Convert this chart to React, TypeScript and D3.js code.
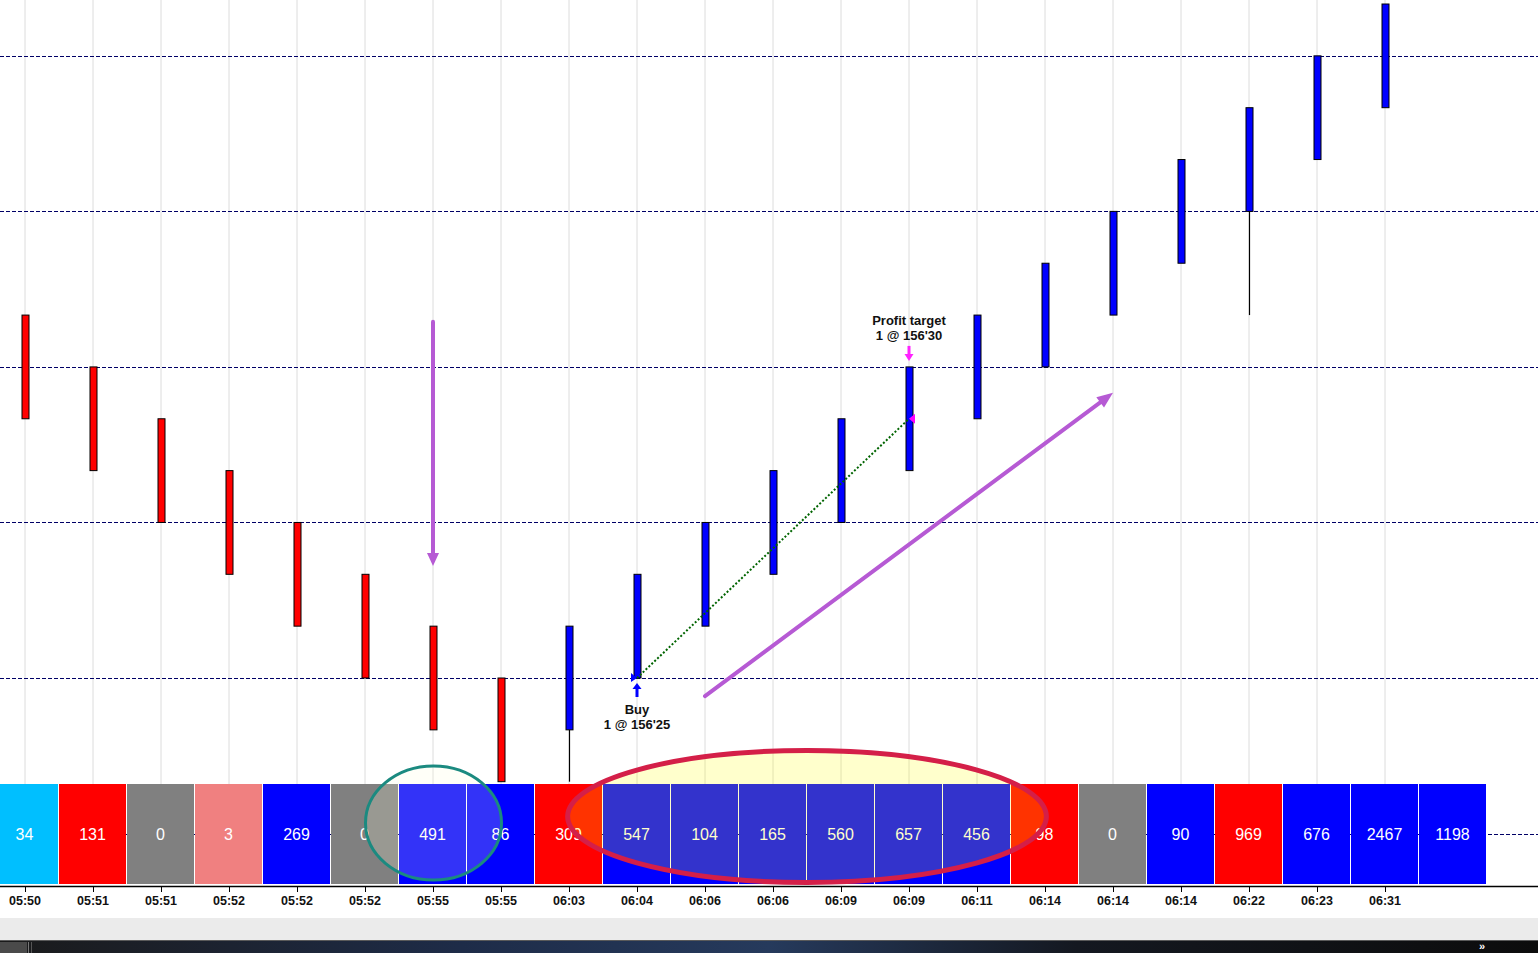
import React from "react";
import * as d3 from "d3";

// renko bricks, in brick units (0 = buy level 156'25)
const brickOpen = [7, 6, 5, 4, 3, 2, 1, 0, -1, 0, 1, 2, 3, 4, 5, 6, 7, 8, 9, 10, 11];
const brickClose = [5, 4, 3, 2, 1, 0, -1, -2, 1, 2, 3, 4, 5, 6, 7, 8, 9, 10, 11, 12, 13];
const wickLow: (number | null)[] = [null, null, null, null, null, null, null, null, -2, null, null, null, null, null, null, null, null, null, 7, null, null];

const timeLabels = [
    "05:50", "05:51", "05:51", "05:52", "05:52", "05:52", "05:55", "05:55", "06:03", "06:04", "06:06",
    "06:06", "06:09", "06:09", "06:11", "06:14", "06:14", "06:14", "06:22", "06:23", "06:31",
];

const volumes = [34, 131, 0, 3, 269, 0, 491, 86, 309, 547, 104, 165, 560, 657, 456, 98, 0, 90, 969, 676, 2467, 1198];
const volumeKind = [
    "sky", "red", "flat", "pink", "blue", "flat", "blue", "blue", "red", "blue", "blue",
    "blue", "blue", "blue", "blue", "red", "flat", "blue", "red", "blue", "blue", "blue",
];
const priceLines = [-3, 0, 3, 6, 9, 12];

const kindColor: Record<string, string> = {
    sky: "#00bfff",
    red: "#ff0000",
    flat: "#808080",
    pink: "#f08080",
    blue: "#0000ff",
};

const W = 1538;
const H = 953;
const FONT = "'Liberation Sans', Arial, sans-serif";
const panelTop = 784;
const panelBottom = 884;
const axisY = 886;

const App: React.FC = () => {
    const slots = volumes.map((_, i) => String(i));
    const x = d3.scaleBand<string>().domain(slots).range([-9, -9 + 68 * slots.length]).padding(0);
    const cx = (i: number) => (x(String(Math.floor(i))) as number) + x.bandwidth() / 2 + (i % 1) * x.step();
    const y = d3.scaleLinear().domain([0, 13]).range([678, 4]);

    const arrowHead = (x1: number, y1: number, x2: number, y2: number, len: number, half: number) => {
        const a = Math.atan2(y2 - y1, x2 - x1);
        const bx = x2 - len * Math.cos(a);
        const by = y2 - len * Math.sin(a);
        const px = -Math.sin(a) * half;
        const py = Math.cos(a) * half;
        return `${x2},${y2} ${bx + px},${by + py} ${bx - px},${by - py}`;
    };

    const purple = "#b65ad4";
    // annotation anchors (slot, brick)
    const down = { x1: cx(6), y1: y(6.87), x2: cx(6), y2: y(2.16) };
    const diag = { x1: cx(10), y1: y(-0.35), x2: cx(16), y2: y(5.5) };
    const buy = { x: cx(9), y: y(0) };
    const exit = { x: cx(13), y: y(5) };
    const target = { x: cx(13), y: y(6) };

    const panelMid = (panelTop + panelBottom) / 2;

    return (
        <div style={{ position: "fixed", left: 0, top: 0, width: W, height: H, overflow: "hidden", background: "#fff" }}>
            <svg width={W} height={H} style={{ display: "block", fontFamily: FONT }}>
                <defs>
                    <linearGradient id="scroll" x1="0" x2="1" y1="0" y2="0">
                        <stop offset="0" stopColor="#1a1a1a" />
                        <stop offset="0.3" stopColor="#1e2c48" />
                        <stop offset="0.5" stopColor="#263a5c" />
                        <stop offset="0.7" stopColor="#141820" />
                        <stop offset="1" stopColor="#0c0c0c" />
                    </linearGradient>
                </defs>
                <rect x={0} y={0} width={W} height={H} fill="#fff" />

                {/* vertical grid */}
                {slots.slice(0, timeLabels.length).map((s, i) => (
                    <line key={"g" + s} x1={cx(i)} x2={cx(i)} y1={0} y2={panelTop} stroke="#dcdcdc" strokeWidth={1} />
                ))}

                {/* price lines */}
                {priceLines.map(p => (
                    <line key={"p" + p} x1={0} x2={W} y1={Math.round(y(p)) + 0.5} y2={Math.round(y(p)) + 0.5}
                        stroke="#000066" strokeWidth={1} strokeDasharray="4,2" />
                ))}

                {/* wicks */}
                {wickLow.map((lo, i) => lo === null ? null : (
                    <line key={"w" + i} x1={Math.round(cx(i)) + 0.5} x2={Math.round(cx(i)) + 0.5}
                        y1={y(Math.min(brickOpen[i], brickClose[i]))} y2={Math.min(y(lo), panelTop)}
                        stroke="#000" strokeWidth={1.2} />
                ))}

                {/* bricks */}
                {brickOpen.map((o, i) => {
                    const c = brickClose[i];
                    const top = y(Math.max(o, c));
                    const bot = y(Math.min(o, c));
                    return (
                        <rect key={"b" + i} x={Math.round(cx(i)) - 3} y={top} width={7} height={bot - top}
                            fill={c > o ? "#0000ff" : "#ff0000"} stroke="#000" strokeWidth={1} />
                    );
                })}

                {/* trade connector */}
                <line x1={buy.x} y1={buy.y} x2={exit.x} y2={exit.y} stroke="#006400" strokeWidth={2} strokeDasharray="2,2" />
                <polygon points={`${buy.x - 6},${buy.y - 5} ${buy.x - 6},${buy.y + 4} ${buy.x},${buy.y}`} fill="#0000ff" />
                <polygon points={`${exit.x},${exit.y} ${exit.x + 6},${exit.y - 5} ${exit.x + 6},${exit.y + 5}`} fill="#ff00ff" />

                {/* buy label */}
                <line x1={buy.x} x2={buy.x} y1={buy.y + 19} y2={buy.y + 9} stroke="#0000ff" strokeWidth={3} />
                <polygon points={`${buy.x},${buy.y + 5} ${buy.x - 4.5},${buy.y + 11} ${buy.x + 4.5},${buy.y + 11}`} fill="#0000ff" />
                <text x={buy.x} y={buy.y + 36} textAnchor="middle" fontSize={13} fontWeight="bold" fill="#111">Buy</text>
                <text x={buy.x} y={buy.y + 51} textAnchor="middle" fontSize={13} fontWeight="bold" fill="#111">1 @ 156'25</text>

                {/* profit target label */}
                <text x={target.x} y={target.y - 42} textAnchor="middle" fontSize={13} fontWeight="bold" fill="#111">Profit target</text>
                <text x={target.x} y={target.y - 27} textAnchor="middle" fontSize={13} fontWeight="bold" fill="#111">1 @ 156'30</text>
                <line x1={target.x} x2={target.x} y1={target.y - 21} y2={target.y - 12} stroke="#ff22ff" strokeWidth={3} />
                <polygon points={`${target.x},${target.y - 6} ${target.x - 4.5},${target.y - 13} ${target.x + 4.5},${target.y - 13}`} fill="#ff22ff" />

                {/* purple arrows */}
                <line x1={down.x1} y1={down.y1} x2={down.x2} y2={down.y2 - 10} stroke={purple} strokeWidth={4} strokeLinecap="round" />
                <polygon points={arrowHead(down.x1, down.y1, down.x2, down.y2, 13, 6)} fill={purple} />
                <line x1={diag.x1} y1={diag.y1} x2={diag.x2 - 10} y2={diag.y2 + 7.5} stroke={purple} strokeWidth={4} strokeLinecap="round" />
                <polygon points={arrowHead(diag.x1, diag.y1, diag.x2, diag.y2, 16, 6.5)} fill={purple} />

                {/* volume panel */}
                {volumes.map((v, i) => (
                    <g key={"v" + i}>
                        <rect x={x(String(i)) as number} y={panelTop} width={x.bandwidth() - 1} height={panelBottom - panelTop}
                            fill={kindColor[volumeKind[i]]} />
                        <text x={cx(i) - 0.5} y={panelMid + 6} textAnchor="middle" fontSize={16} fill="#fff">{v}</text>
                    </g>
                ))}

                {/* highlight ellipses */}
                <ellipse cx={cx(6) + 0.5} cy={823} rx={x.step()} ry={57} fill="rgba(255,255,220,0.2)" stroke="#1b8a80" strokeWidth={3} />
                <ellipse cx={cx(11.5)} cy={816.5} rx={x.step() * 3.52} ry={66} fill="rgba(255,255,0,0.2)" stroke="#d41f48" strokeWidth={5} />

                {/* time axis */}
                <line x1={0} x2={W} y1={axisY + 0.5} y2={axisY + 0.5} stroke="#000" strokeWidth={1.5} />
                {timeLabels.map((t, i) => (
                    <g key={"t" + i}>
                        <line x1={Math.round(cx(i)) + 0.5} x2={Math.round(cx(i)) + 0.5} y1={axisY} y2={axisY + 6} stroke="#000" />
                        <text x={cx(i)} y={905} textAnchor="middle" fontSize={12.5} fontWeight="bold" fill="#111">{t}</text>
                    </g>
                ))}

                {/* window chrome below */}
                <rect x={0} y={918} width={W} height={22} fill="#ebebeb" />
                <rect x={0} y={940} width={W} height={13} fill="url(#scroll)" />
                <line x1={0} x2={W} y1={940.5} y2={940.5} stroke="#5a5a5a" />
                <rect x={0} y={942} width={27} height={11} fill="#4a4a4a" />
                <line x1={28.5} x2={28.5} y1={942} y2={953} stroke="#777" />
                <line x1={31.5} x2={31.5} y1={942} y2={953} stroke="#555" />
                <text x={1482} y={950} textAnchor="middle" fontSize={11} fontWeight="bold" fill="#fff">»</text>
            </svg>
        </div>
    );
};

export default App;
